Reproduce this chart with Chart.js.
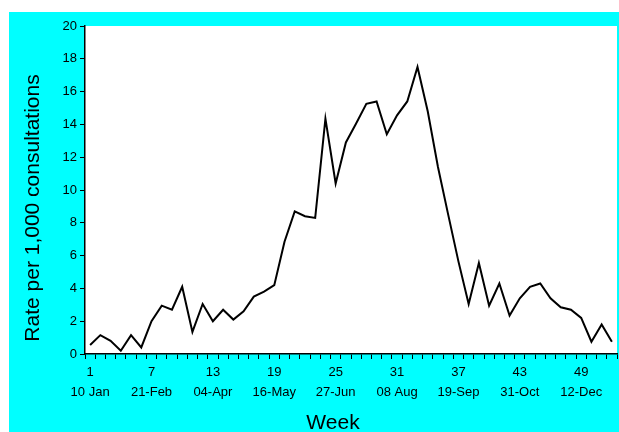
<!DOCTYPE html>
<html>
<head>
<meta charset="utf-8">
<script src="https://cdn.jsdelivr.net/npm/chart.js@4"></script>
<style>
  html, body { margin: 0; padding: 0; background: #fff; }
  #wrap { width: 619px; height: 432px; }
</style>
</head>
<body>
<div id="wrap"><canvas id="rateChart" width="619" height="432"></canvas></div>
<script>
// weekly consultation rates
const weeks = [1, 2, 3, 4, 5, 6, 7, 8, 9, 10, 11, 12, 13, 14, 15, 16, 17, 18, 19, 20, 21, 22, 23, 24, 25, 26,
  27, 28, 29, 30, 31, 32, 33, 34, 35, 36, 37, 38, 39, 40, 41, 42, 43, 44, 45, 46, 47, 48, 49, 50, 51, 52];
const rates = [0.55, 1.15, 0.8, 0.2, 1.15, 0.4, 2.0, 2.95, 2.7, 4.1, 1.35, 3.05, 2.0, 2.7, 2.1, 2.6,
  3.5, 3.8, 4.2, 6.85, 8.7, 8.4, 8.3, 14.35, 10.4, 12.9, 14.05, 15.25, 15.4, 13.4, 14.55, 15.4,
  17.5, 14.8, 11.4, 8.5, 5.65, 3.05, 5.55, 2.95, 4.3, 2.35, 3.4, 4.1, 4.3, 3.4, 2.85, 2.7, 2.2,
  0.75, 1.8, 0.75];
const tickWeeks = [1, 7, 13, 19, 25, 31, 37, 43, 49];
const tickDates = ['10 Jan', '21-Feb', '04-Apr', '16-May', '27-Jun', '08 Aug', '19-Sep', '31-Oct', '12-Dec'];
const yTicks = [0, 2, 4, 6, 8, 10, 12, 14, 16, 18, 20];

// cyan frame, white plot area and the two axis titles
const frame = {
  id: 'frame',
  beforeDraw(chart) {
    const ctx = chart.ctx;
    const a = chart.chartArea;
    ctx.save();
    ctx.fillStyle = '#00ffff';
    ctx.fillRect(9, 12, chart.width - 9, chart.height - 12);
    ctx.fillStyle = '#ffffff';
    ctx.fillRect(a.left, a.top, a.right - a.left, a.bottom - a.top);
    ctx.restore();
  },
  afterDraw(chart) {
    const ctx = chart.ctx;
    ctx.save();
    ctx.fillStyle = '#000';
    ctx.textAlign = 'center';
    ctx.textBaseline = 'middle';
    ctx.font = '21px "Liberation Sans", Arial, sans-serif';
    ctx.fillText('Week', 333, 423);
    ctx.translate(33, 208);
    ctx.rotate(-Math.PI / 2);
    ctx.fillText('Rate per 1,000 consultations', 0, 0);
    ctx.restore();
  }
};

new Chart(document.getElementById('rateChart'), {
  type: 'line',
  data: {
    labels: weeks,
    datasets: [{
      data: rates,
      borderColor: '#000',
      borderWidth: 2,
      pointRadius: 0,
      tension: 0,
      fill: false
    }]
  },
  options: {
    responsive: false,
    animation: false,
    layout: { padding: { top: 26, right: 2, left: 0, bottom: 0 } },
    plugins: { legend: { display: false }, tooltip: { enabled: false } },
    scales: {
      x: {
        offset: true,
        afterFit(scale) { scale.height = 78; },
        grid: { offset: true, drawOnChartArea: false, drawTicks: true, tickLength: 5, color: '#000' },
        border: { color: '#000', width: 1.5 },
        ticks: {
          autoSkip: false,
          maxRotation: 0,
          padding: 3,
          color: '#000',
          font: { family: '"Liberation Sans", Arial, sans-serif', size: 13, lineHeight: 1.55 },
          callback(value, index) {
            const i = tickWeeks.indexOf(weeks[index]);
            return i < 0 ? '' : [String(weeks[index]), tickDates[i]];
          }
        }
      },
      y: {
        min: 0,
        max: 20,
        afterFit(scale) { scale.width = 85; },
        afterBuildTicks(scale) { scale.ticks = yTicks.map(v => ({ value: v })); },
        grid: { drawOnChartArea: false, drawTicks: true, tickLength: 5, color: '#000' },
        border: { color: '#000', width: 1.5 },
        ticks: {
          padding: 3,
          color: '#000',
          font: { family: '"Liberation Sans", Arial, sans-serif', size: 13 }
        }
      }
    }
  },
  plugins: [frame]
});
</script>
</body>
</html>
